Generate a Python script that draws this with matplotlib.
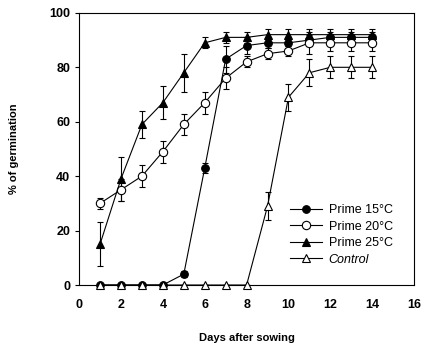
import matplotlib
matplotlib.use("Agg")
import matplotlib.pyplot as plt
from matplotlib.lines import Line2D
import numpy as np

# Data
days = np.arange(1, 15)

prime15 = [0, 0, 0, 0, 4, 43, 83, 88, 89, 89, 90, 91, 91, 91]
prime15_err = [0, 0, 0, 0, 1, 2, 5, 3, 2, 2, 2, 2, 2, 2]

prime20 = [30, 35, 40, 49, 59, 67, 76, 82, 85, 86, 89, 89, 89, 89]
prime20_err = [2, 4, 4, 4, 4, 4, 4, 2, 2, 2, 4, 3, 3, 3]

prime25 = [15, 39, 59, 67, 78, 89, 91, 91, 92, 92, 92, 92, 92, 92]
prime25_err = [8, 8, 5, 6, 7, 2, 2, 2, 2, 2, 2, 2, 2, 2]

control = [0, 0, 0, 0, 0, 0, 0, 0, 29, 69, 78, 80, 80, 80]
control_err = [0, 0, 0, 0, 0, 0, 0, 0, 5, 5, 5, 4, 4, 4]

labels = ["Prime 15°C", "Prime 20°C", "Prime 25°C", "Control"]

plt.rcParams["font.family"] = ["Liberation Sans", "DejaVu Sans"]

fig = plt.figure(figsize=(4.23, 3.48), dpi=100)
ax = fig.add_axes([0.187, 0.181, 0.792, 0.782])

styles = [
    dict(marker="o", mfc="black", mec="black", ms=5.5),
    dict(marker="o", mfc="white", mec="black", ms=6),
    dict(marker="^", mfc="black", mec="black", ms=5.5),
    dict(marker="^", mfc="white", mec="black", ms=6),
]
data = [(prime15, prime15_err), (prime20, prime20_err),
        (prime25, prime25_err), (control, control_err)]

handles = []
for (vals, err), st in zip(data, styles):
    ax.errorbar(days, vals, yerr=err, color="black", lw=0.8, elinewidth=0.8,
                capsize=2.5, capthick=0.8, mew=0.8, clip_on=False,
                zorder=3, **st)
    handles.append(Line2D([], [], color="black", lw=0.8, mew=0.8, **st))

ax.set_xlim(0, 16)
ax.set_ylim(0, 100)
ax.set_xticks(range(0, 17, 2))
ax.set_yticks(range(0, 101, 20))
ax.tick_params(axis="x", length=0, pad=10, labelsize=9)
ax.tick_params(axis="y", direction="out", length=3, width=0.8, labelsize=9)
for t in ax.get_xticklabels() + ax.get_yticklabels():
    t.set_fontweight("bold")

for sp in ax.spines.values():
    sp.set_linewidth(0.8)

ax.set_xlabel("Days after sowing", fontsize=8, fontweight="bold", labelpad=16)
ax.set_ylabel("% of germination", fontsize=8, fontweight="bold", labelpad=22)

leg = ax.legend(handles, labels, loc="lower right", bbox_to_anchor=(0.97, 0.03),
                frameon=False, fontsize=9, handlelength=2.6, handletextpad=0.5,
                labelspacing=0.35)
leg.get_texts()[3].set_fontstyle("italic")

plt.savefig("out.png", dpi=100)
